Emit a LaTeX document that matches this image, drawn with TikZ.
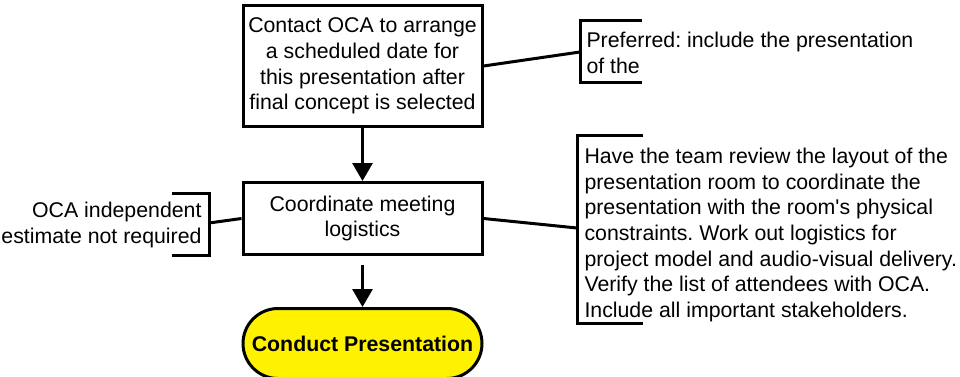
\documentclass[tikz,border=0pt]{standalone}
\usepackage{fontspec}
\setmainfont{Liberation Sans}
\frenchspacing
\usetikzlibrary{positioning, arrows.meta}
\tikzset{every picture/.append style={line width=3pt}}
\tikzset{
  txt/.style={font=\fontsize{21.3}{25.6}\selectfont},
  stepbox/.style={draw, txt, align=center, inner sep=0pt, minimum width=239pt},
  termbox/.style={draw, fill=yellow, rounded corners=35pt, inner sep=0pt,
    minimum width=239pt, minimum height=70pt, font=\fontsize{21.3}{25.6}\selectfont\bfseries},
  note/.style={txt, inner sep=0pt},
  flow/.style={-{Triangle[width=20pt,length=18pt]}},
}

\begin{document}
\begin{tikzpicture}[x=1pt, y=-1pt]
    \useasboundingbox (0,0) rectangle (960,377);
    % main flow
    \node[stepbox, minimum height=121pt] (contact) at (362.5,66)
        {Contact OCA to arrange\\a scheduled date for\\this presentation after\\final concept is selected};
    \node[stepbox, minimum height=72pt, below=53pt of contact] (logistics)
        {Coordinate meeting\\logistics};
    \node[termbox, below=51pt of logistics] (conduct) {Conduct Presentation};
    \draw[flow] (contact) -- (logistics);
    \draw[flow] ([yshift=-9pt]logistics.south) -- (conduct);

    % annotations
    \node[note, anchor=east, align=right] (noteL) at (203,225)
        {OCA independent\\estimate not required};
    \draw (172,193) -- (209,193) -- (209,255) -- (172,255);
    \coordinate (brL) at (209,223);
    \draw (brL) -- (logistics.west);

    \node[note, anchor=west, align=left] (noteTop) at (585,53)
        {Preferred: include the presentation\\of the};
    \draw (642,21) -- (580,21) -- (580,83) -- (642,83);
    \coordinate (brTop) at (580,52);
    \draw (contact.east) -- (brTop);

    \node[note, anchor=west, align=left] (noteR) at (583,235)
        {Have the team review the layout of the\\presentation room to coordinate the\\presentation with the room\textquotesingle s physical\\constraints. Work out logistics for\\project model and audio-visual delivery.\\Verify the list of attendees with OCA.\\Include all important stakeholders.};
    \draw (643,135) -- (577,135) -- (577,323) -- (643,323);
    \coordinate (brR) at (577,228);
    \draw (logistics.east) -- (brR);
\end{tikzpicture}
\end{document}
